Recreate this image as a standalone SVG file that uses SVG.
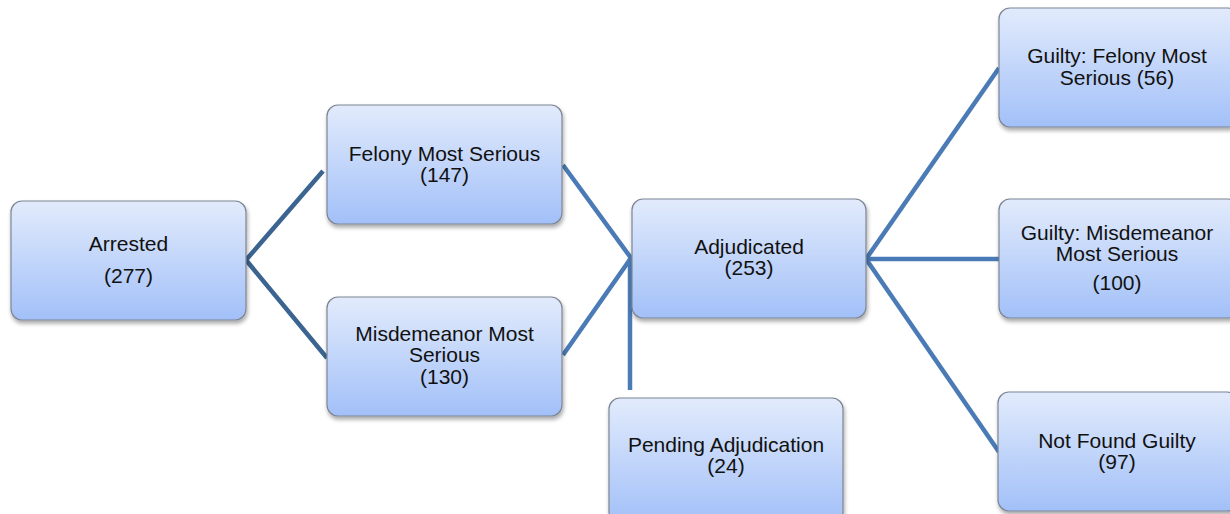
<svg xmlns="http://www.w3.org/2000/svg" width="1230" height="514" viewBox="0 0 1230 514">
<defs>
<linearGradient id="g" x1="0" y1="0" x2="0" y2="1">
<stop offset="0" stop-color="#e2ebfc"/>
<stop offset="1" stop-color="#a2c0f8"/>
</linearGradient>
<filter id="sh" x="-10%" y="-10%" width="125%" height="130%">
<feGaussianBlur in="SourceAlpha" stdDeviation="2"/>
<feOffset dx="1" dy="3" result="b"/>
<feComponentTransfer><feFuncA type="linear" slope="0.35"/></feComponentTransfer>
<feMerge><feMergeNode/><feMergeNode in="SourceGraphic"/></feMerge>
</filter>
</defs>
<style>
.box{fill:url(#g);stroke:#7d8594;stroke-width:1.2;filter:url(#sh)}
text{font-family:"Liberation Sans",Arial,sans-serif;font-size:21px;fill:#111;text-anchor:middle}
.cl{stroke:#3b6491;stroke-width:4.5;fill:none}
.cr{stroke:#4a7bb6;stroke-width:4.5;fill:none}
</style>
<g id="connectors">
<polyline class="cl" points="323,171 246,260 327,358"/>
<polyline class="cr" points="563,165 631,258 563,355"/>
<line class="cr" x1="630" y1="258" x2="630" y2="390"/>
<line class="cr" x1="866" y1="259" x2="999" y2="68"/>
<line class="cr" x1="866" y1="259" x2="999" y2="259"/>
<line class="cr" x1="866" y1="259" x2="999" y2="452"/>
</g>
<g id="arrested">
<rect class="box" x="11" y="201" width="235" height="119" rx="11"/>
<text x="128.5" y="251">Arrested</text>
<text x="128.5" y="283">(277)</text>
</g>
<g id="felony">
<rect class="box" x="327" y="105" width="235" height="119" rx="11"/>
<text x="444.5" y="161">Felony Most Serious</text>
<text x="444.5" y="182">(147)</text>
</g>
<g id="misdemeanor">
<rect class="box" x="327" y="297" width="235" height="119" rx="11"/>
<text x="444.5" y="341">Misdemeanor Most</text>
<text x="444.5" y="362">Serious</text>
<text x="444.5" y="384">(130)</text>
</g>
<g id="adjudicated">
<rect class="box" x="632" y="199" width="234" height="119" rx="11"/>
<text x="749" y="254">Adjudicated</text>
<text x="749" y="275">(253)</text>
</g>
<g id="pending">
<rect class="box" x="609" y="398" width="234" height="125" rx="11"/>
<text x="726" y="452">Pending Adjudication</text>
<text x="726" y="473">(24)</text>
</g>
<g id="guilty-felony">
<rect class="box" x="999" y="8" width="240" height="119" rx="11"/>
<text x="1117" y="63">Guilty: Felony Most</text>
<text x="1117" y="85">Serious (56)</text>
</g>
<g id="guilty-misdemeanor">
<rect class="box" x="999" y="199" width="240" height="119" rx="11"/>
<text x="1117" y="240">Guilty: Misdemeanor</text>
<text x="1117" y="261">Most Serious</text>
<text x="1117" y="290">(100)</text>
</g>
<g id="not-guilty">
<rect class="box" x="998" y="392" width="240" height="119" rx="11"/>
<text x="1117" y="448">Not Found Guilty</text>
<text x="1117" y="469">(97)</text>
</g>
</svg>
